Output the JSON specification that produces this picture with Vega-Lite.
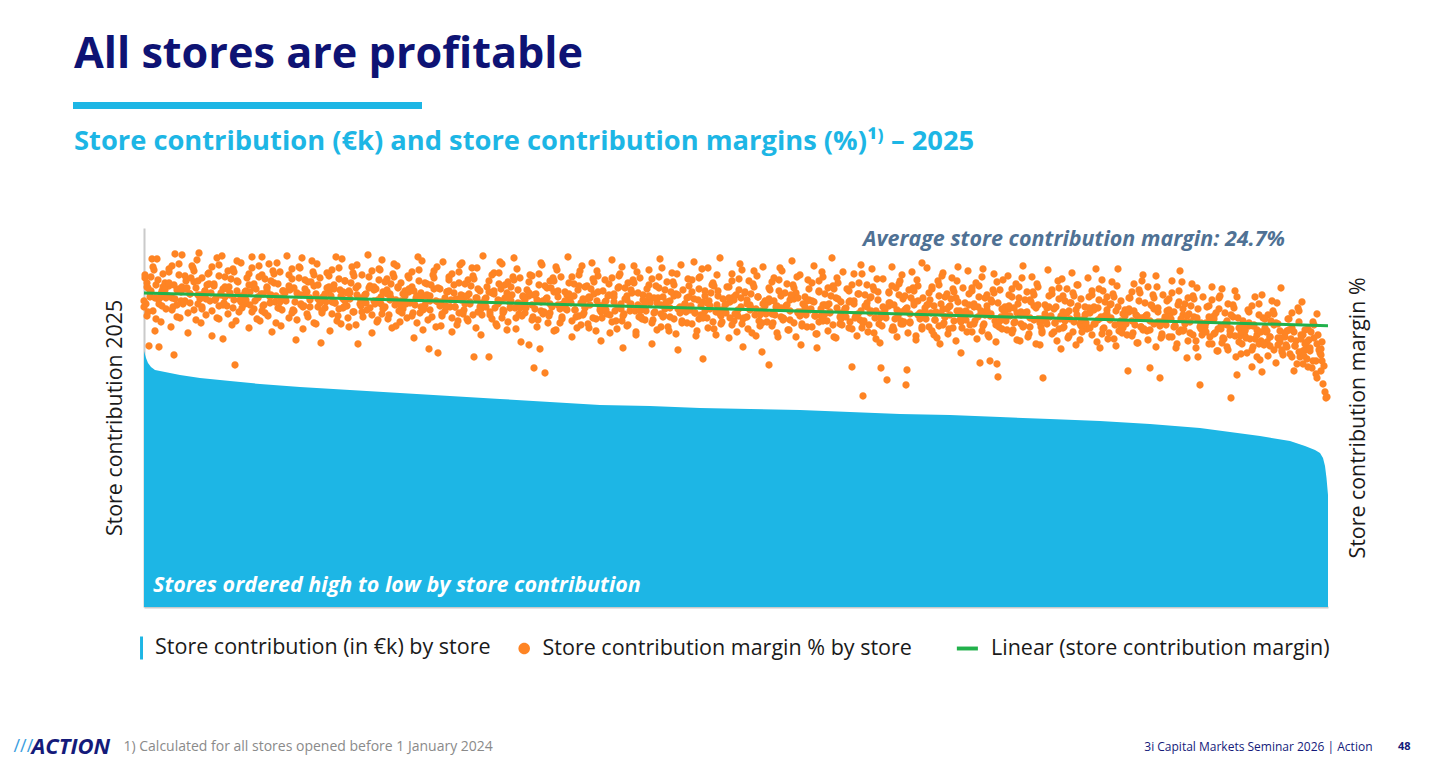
{
  "$schema": "https://vega.github.io/schema/vega-lite/v6.json",
  "width": 1184,
  "height": 379,
  "autosize": {"type": "none"},
  "padding": {"left": 144, "top": 228, "right": 101, "bottom": 158},
  "background": "#ffffff",
  "config": {"view": {"stroke": null}, "font": "Open Sans"},
  "title": {
    "text": "All stores are profitable",
    "subtitle": "Store contribution (€k) and store contribution margins (%)¹⁾ – 2025",
    "anchor": "start",
    "frame": "group",
    "dx": -70,
    "dy": 54,
    "offset": 0,
    "font": "Open Sans",
    "fontSize": 43.2,
    "fontWeight": "bold",
    "color": "#0e1374",
    "subtitleFont": "Open Sans",
    "subtitleFontSize": 27.3,
    "subtitleFontWeight": "bold",
    "subtitleColor": "#1db6e5",
    "subtitlePadding": 51
  },
  "datasets": {
    "contribution": [
      {"r": 0, "c": 1024}, {"r": 2, "c": 996}, {"r": 4, "c": 976}, {"r": 7, "c": 960},
      {"r": 11, "c": 948}, {"r": 21, "c": 940}, {"r": 36, "c": 928}, {"r": 56, "c": 916},
      {"r": 86, "c": 904}, {"r": 116, "c": 892}, {"r": 156, "c": 880}, {"r": 206, "c": 868},
      {"r": 256, "c": 856}, {"r": 306, "c": 844}, {"r": 356, "c": 832}, {"r": 406, "c": 820},
      {"r": 456, "c": 808}, {"r": 506, "c": 804}, {"r": 556, "c": 796}, {"r": 606, "c": 792},
      {"r": 656, "c": 788}, {"r": 706, "c": 780}, {"r": 756, "c": 772}, {"r": 806, "c": 768},
      {"r": 856, "c": 760}, {"r": 906, "c": 752}, {"r": 956, "c": 744}, {"r": 1006, "c": 732},
      {"r": 1056, "c": 716}, {"r": 1086, "c": 700}, {"r": 1116, "c": 684}, {"r": 1146, "c": 664},
      {"r": 1161, "c": 644}, {"r": 1171, "c": 628}, {"r": 1176, "c": 616}, {"r": 1179, "c": 596},
      {"r": 1181, "c": 564}, {"r": 1182.5, "c": 516}, {"r": 1184, "c": 448}
    ],
    "trend": [{"r": 0, "m": 26.4}, {"r": 1184, "m": 23.13}],
    "stores": [
      {"r":0,"m":25.0},{"r":1,"m":27.9},{"r":2,"m":25.3},{"r":3,"m":24.1},{"r":4,"m":26.9},{"r":5,"m":21.1},{"r":6,"m":26.0},{"r":8,"m":29.8},{"r":9,"m":24.6},{"r":11,"m":22.6},{"r":12,"m":27.2},{"r":14,"m":25.8},{"r":15,"m":21.0},{"r":17,"m":23.5},{"r":18,"m":26.6},{"r":19,"m":28.3},
      {"r":21,"m":27.4},{"r":22,"m":24.8},{"r":24,"m":26.1},{"r":25,"m":28.8},{"r":27,"m":23.0},{"r":28,"m":25.9},{"r":30,"m":20.2},{"r":31,"m":30.3},{"r":33,"m":25.2},{"r":35,"m":26.8},{"r":36,"m":23.9},{"r":38,"m":27.0},
      {"r":41,"m":25.6},{"r":42,"m":27.6},{"r":44,"m":22.4},{"r":46,"m":26.3},{"r":48,"m":29.1},{"r":50,"m":24.7},{"r":52,"m":26.9},{"r":54,"m":25.3},{"r":55,"m":30.4},{"r":57,"m":23.4},{"r":58,"m":27.9},
      {"r":61,"m":26.6},{"r":62,"m":24.2},{"r":64,"m":28.3},{"r":66,"m":25.6},{"r":68,"m":22.1},{"r":70,"m":27.3},{"r":72,"m":25.9},{"r":73,"m":29.9},{"r":75,"m":23.8},{"r":77,"m":26.2},{"r":79,"m":21.8},
      {"r":81,"m":27.0},{"r":83,"m":25.1},{"r":84,"m":28.6},{"r":86,"m":26.4},{"r":88,"m":23.2},{"r":90,"m":25.7},{"r":91,"m":19.2},{"r":93,"m":27.6},{"r":95,"m":24.5},{"r":97,"m":29.4},{"r":99,"m":26.0},
      {"r":101,"m":25.3},{"r":103,"m":27.9},{"r":105,"m":22.9},{"r":106,"m":26.5},{"r":108,"m":30.0},{"r":110,"m":24.8},{"r":112,"m":26.8},{"r":114,"m":25.9},{"r":116,"m":23.6},{"r":118,"m":28.2},{"r":119,"m":26.3},
      {"r":121,"m":24.4},{"r":123,"m":26.9},{"r":125,"m":29.3},{"r":126,"m":25.4},{"r":128,"m":22.5},{"r":130,"m":27.4},{"r":132,"m":26.1},{"r":134,"m":24.9},{"r":136,"m":28.5},{"r":137,"m":23.1},{"r":139,"m":26.6},
      {"r":141,"m":25.8},{"r":143,"m":30.1},{"r":145,"m":23.9},{"r":146,"m":26.7},{"r":148,"m":27.8},{"r":150,"m":24.6},{"r":152,"m":21.7},{"r":154,"m":26.2},{"r":156,"m":28.9},{"r":157,"m":25.2},{"r":159,"m":22.8},
      {"r":161,"m":26.8},{"r":163,"m":24.3},{"r":164,"m":27.5},{"r":166,"m":25.7},{"r":168,"m":29.6},{"r":170,"m":23.4},{"r":172,"m":26.3},{"r":174,"m":25.0},{"r":176,"m":27.9},{"r":177,"m":21.4},{"r":179,"m":26.0},
      {"r":181,"m":24.9},{"r":183,"m":28.4},{"r":185,"m":26.4},{"r":186,"m":22.6},{"r":188,"m":25.5},{"r":190,"m":27.2},{"r":192,"m":30.0},{"r":194,"m":24.1},{"r":196,"m":26.7},{"r":197,"m":23.3},{"r":199,"m":25.8},
      {"r":201,"m":27.6},{"r":203,"m":25.1},{"r":205,"m":23.0},{"r":206,"m":26.4},{"r":208,"m":29.0},{"r":210,"m":24.5},{"r":212,"m":26.9},{"r":214,"m":21.3},{"r":216,"m":25.9},{"r":218,"m":28.2},{"r":219,"m":24.0},
      {"r":221,"m":26.2},{"r":223,"m":24.7},{"r":224,"m":30.2},{"r":226,"m":27.1},{"r":228,"m":22.4},{"r":230,"m":25.6},{"r":232,"m":26.8},{"r":234,"m":23.7},{"r":236,"m":28.7},{"r":237,"m":25.3},{"r":239,"m":26.5},
      {"r":241,"m":25.0},{"r":243,"m":27.8},{"r":245,"m":24.2},{"r":246,"m":26.3},{"r":248,"m":22.9},{"r":250,"m":29.3},{"r":252,"m":25.7},{"r":254,"m":26.9},{"r":256,"m":23.5},{"r":257,"m":27.4},{"r":259,"m":24.8},
      {"r":261,"m":26.6},{"r":263,"m":23.9},{"r":264,"m":28.1},{"r":266,"m":25.4},{"r":268,"m":27.0},{"r":270,"m":21.9},{"r":272,"m":25.9},{"r":274,"m":30.0},{"r":276,"m":24.4},{"r":277,"m":26.4},{"r":279,"m":22.7},
      {"r":281,"m":25.2},{"r":283,"m":27.3},{"r":285,"m":20.8},{"r":286,"m":26.1},{"r":288,"m":24.0},{"r":290,"m":28.6},{"r":292,"m":25.6},{"r":294,"m":20.4},{"r":296,"m":26.8},{"r":297,"m":23.1},{"r":299,"m":29.5},
      {"r":301,"m":24.6},{"r":303,"m":26.5},{"r":305,"m":28.0},{"r":306,"m":25.0},{"r":308,"m":22.5},{"r":310,"m":27.2},{"r":312,"m":25.8},{"r":314,"m":23.6},{"r":316,"m":29.2},{"r":317,"m":26.2},{"r":319,"m":24.3},
      {"r":321,"m":26.0},{"r":323,"m":23.8},{"r":324,"m":27.7},{"r":326,"m":25.3},{"r":328,"m":28.9},{"r":330,"m":20.0},{"r":332,"m":25.9},{"r":334,"m":24.5},{"r":336,"m":26.6},{"r":337,"m":22.2},{"r":339,"m":30.1},
      {"r":341,"m":25.1},{"r":343,"m":27.0},{"r":345,"m":20.0},{"r":346,"m":24.2},{"r":348,"m":26.4},{"r":350,"m":28.4},{"r":352,"m":23.3},{"r":354,"m":25.7},{"r":356,"m":29.5},{"r":357,"m":26.8},{"r":359,"m":24.7},
      {"r":361,"m":25.9},{"r":363,"m":22.7},{"r":364,"m":27.5},{"r":366,"m":24.9},{"r":368,"m":26.2},{"r":370,"m":29.9},{"r":372,"m":23.9},{"r":374,"m":25.4},{"r":376,"m":27.9},{"r":377,"m":21.5},{"r":379,"m":26.1},
      {"r":381,"m":24.4},{"r":383,"m":26.7},{"r":385,"m":21.2},{"r":386,"m":28.2},{"r":388,"m":25.2},{"r":390,"m":18.9},{"r":392,"m":26.3},{"r":394,"m":23.7},{"r":396,"m":20.8},{"r":397,"m":29.4},{"r":399,"m":25.6},
      {"r":401,"m":18.4},{"r":403,"m":26.9},{"r":405,"m":24.1},{"r":406,"m":27.6},{"r":408,"m":25.0},{"r":410,"m":22.6},{"r":412,"m":29.0},{"r":414,"m":26.0},{"r":416,"m":23.4},{"r":417,"m":28.0},{"r":419,"m":25.3},
      {"r":421,"m":26.5},{"r":423,"m":24.7},{"r":424,"m":30.0},{"r":426,"m":25.8},{"r":428,"m":22.0},{"r":430,"m":27.3},{"r":432,"m":24.0},{"r":434,"m":26.7},{"r":436,"m":28.6},{"r":437,"m":23.2},{"r":439,"m":25.4},
      {"r":441,"m":24.9},{"r":443,"m":27.1},{"r":445,"m":22.9},{"r":446,"m":25.9},{"r":448,"m":29.4},{"r":450,"m":26.3},{"r":452,"m":23.8},{"r":454,"m":28.1},{"r":456,"m":25.1},{"r":457,"m":21.6},{"r":459,"m":26.6},
      {"r":461,"m":27.7},{"r":463,"m":24.3},{"r":464,"m":26.1},{"r":466,"m":22.4},{"r":468,"m":29.7},{"r":470,"m":25.5},{"r":472,"m":23.6},{"r":474,"m":26.9},{"r":476,"m":28.3},{"r":477,"m":24.8},{"r":479,"m":20.9},
      {"r":481,"m":25.8},{"r":483,"m":23.1},{"r":484,"m":27.4},{"r":486,"m":24.6},{"r":488,"m":26.4},{"r":490,"m":29.1},{"r":492,"m":22.2},{"r":494,"m":25.2},{"r":496,"m":27.9},{"r":497,"m":24.0},{"r":499,"m":26.2},
      {"r":501,"m":23.7},{"r":503,"m":26.8},{"r":505,"m":28.7},{"r":506,"m":25.4},{"r":508,"m":21.3},{"r":510,"m":24.4},{"r":512,"m":27.1},{"r":514,"m":25.9},{"r":516,"m":29.8},{"r":517,"m":23.0},{"r":519,"m":26.0},
      {"r":521,"m":24.8},{"r":523,"m":27.5},{"r":525,"m":22.6},{"r":526,"m":25.6},{"r":528,"m":28.4},{"r":530,"m":23.8},{"r":532,"m":26.3},{"r":534,"m":20.7},{"r":536,"m":25.0},{"r":537,"m":29.2},{"r":539,"m":26.7},
      {"r":541,"m":25.3},{"r":543,"m":23.4},{"r":544,"m":27.8},{"r":546,"m":24.7},{"r":548,"m":26.5},{"r":550,"m":29.5},{"r":552,"m":22.1},{"r":554,"m":25.7},{"r":556,"m":28.0},{"r":557,"m":24.2},{"r":559,"m":19.8},
      {"r":561,"m":26.1},{"r":563,"m":23.9},{"r":564,"m":28.9},{"r":566,"m":25.1},{"r":568,"m":27.2},{"r":570,"m":22.8},{"r":572,"m":24.5},{"r":574,"m":26.6},{"r":576,"m":29.9},{"r":577,"m":23.3},{"r":579,"m":25.8},
      {"r":581,"m":24.6},{"r":583,"m":27.0},{"r":585,"m":21.9},{"r":586,"m":25.5},{"r":588,"m":28.3},{"r":590,"m":23.6},{"r":592,"m":26.2},{"r":594,"m":24.1},{"r":596,"m":29.3},{"r":597,"m":25.9},{"r":599,"m":21.0},
      {"r":601,"m":26.4},{"r":603,"m":24.0},{"r":605,"m":27.6},{"r":606,"m":25.2},{"r":608,"m":22.4},{"r":610,"m":28.6},{"r":612,"m":24.8},{"r":614,"m":26.0},{"r":616,"m":23.1},{"r":618,"m":20.5},{"r":619,"m":29.0},
      {"r":621,"m":25.6},{"r":623,"m":23.5},{"r":625,"m":19.2},{"r":626,"m":26.7},{"r":628,"m":24.3},{"r":630,"m":27.9},{"r":632,"m":25.0},{"r":634,"m":22.0},{"r":636,"m":28.9},{"r":637,"m":26.1},{"r":639,"m":23.9},
      {"r":641,"m":24.9},{"r":643,"m":27.3},{"r":645,"m":22.7},{"r":646,"m":25.7},{"r":648,"m":29.6},{"r":650,"m":23.4},{"r":652,"m":26.4},{"r":654,"m":24.4},{"r":656,"m":28.2},{"r":657,"m":21.2},{"r":659,"m":25.3},
      {"r":661,"m":26.0},{"r":663,"m":23.0},{"r":664,"m":27.7},{"r":666,"m":24.7},{"r":668,"m":25.6},{"r":670,"m":29.1},{"r":672,"m":22.3},{"r":673,"m":20.9},{"r":675,"m":26.6},{"r":677,"m":24.1},{"r":679,"m":28.0},
      {"r":681,"m":25.2},{"r":683,"m":23.6},{"r":684,"m":26.9},{"r":686,"m":24.4},{"r":688,"m":29.9},{"r":690,"m":22.0},{"r":692,"m":25.9},{"r":694,"m":27.4},{"r":696,"m":23.3},{"r":697,"m":25.5},{"r":699,"m":28.5},
      {"r":701,"m":24.8},{"r":703,"m":26.8},{"r":705,"m":22.9},{"r":706,"m":25.6},{"r":708,"m":19.0},{"r":710,"m":28.3},{"r":712,"m":24.2},{"r":714,"m":26.3},{"r":716,"m":23.7},{"r":717,"m":29.2},{"r":719,"m":16.1},
      {"r":721,"m":25.1},{"r":723,"m":27.2},{"r":725,"m":23.2},{"r":726,"m":25.9},{"r":728,"m":28.8},{"r":730,"m":22.4},{"r":732,"m":24.6},{"r":734,"m":26.5},{"r":736,"m":21.4},{"r":737,"m":18.9},{"r":739,"m":27.8},
      {"r":741,"m":24.3},{"r":743,"m":17.7},{"r":745,"m":26.4},{"r":746,"m":25.4},{"r":748,"m":29.0},{"r":750,"m":22.7},{"r":752,"m":26.9},{"r":754,"m":24.1},{"r":756,"m":27.6},{"r":757,"m":23.3},{"r":759,"m":25.8},
      {"r":761,"m":24.7},{"r":762,"m":17.2},{"r":763,"m":18.7},{"r":765,"m":26.7},{"r":766,"m":23.5},{"r":768,"m":28.5},{"r":770,"m":25.2},{"r":772,"m":22.1},{"r":774,"m":27.1},{"r":776,"m":24.4},{"r":778,"m":29.4},{"r":779,"m":25.9},
      {"r":781,"m":24.9},{"r":783,"m":28.9},{"r":785,"m":23.0},{"r":786,"m":25.7},{"r":788,"m":26.8},{"r":790,"m":22.2},{"r":792,"m":24.5},{"r":794,"m":27.6},{"r":796,"m":21.3},{"r":797,"m":25.3},{"r":799,"m":28.4},
      {"r":801,"m":24.0},{"r":803,"m":26.3},{"r":805,"m":22.8},{"r":806,"m":25.1},{"r":808,"m":27.9},{"r":810,"m":23.6},{"r":812,"m":25.9},{"r":814,"m":29.0},{"r":816,"m":24.6},{"r":817,"m":20.4},{"r":819,"m":26.9},
      {"r":821,"m":25.4},{"r":823,"m":22.5},{"r":824,"m":28.6},{"r":826,"m":24.3},{"r":828,"m":26.6},{"r":830,"m":23.3},{"r":832,"m":27.4},{"r":834,"m":25.0},{"r":836,"m":19.4},{"r":837,"m":24.6},{"r":839,"m":28.8},
      {"r":841,"m":24.2},{"r":843,"m":26.2},{"r":845,"m":22.0},{"r":846,"m":19.6},{"r":848,"m":25.5},{"r":850,"m":28.3},{"r":852,"m":23.2},{"r":853,"m":19.3},{"r":854,"m":18.0},{"r":856,"m":26.7},{"r":858,"m":24.8},{"r":859,"m":27.7},
      {"r":861,"m":25.0},{"r":863,"m":22.7},{"r":864,"m":28.1},{"r":866,"m":24.1},{"r":868,"m":26.0},{"r":870,"m":23.4},{"r":872,"m":27.3},{"r":874,"m":25.3},{"r":876,"m":21.6},{"r":877,"m":24.5},{"r":879,"m":29.1},
      {"r":881,"m":24.4},{"r":883,"m":26.5},{"r":885,"m":22.3},{"r":886,"m":25.7},{"r":888,"m":28.0},{"r":890,"m":23.7},{"r":892,"m":24.9},{"r":894,"m":27.0},{"r":896,"m":21.2},{"r":897,"m":23.0},{"r":899,"m":17.9},
      {"r":901,"m":25.2},{"r":903,"m":23.3},{"r":904,"m":28.7},{"r":906,"m":24.0},{"r":908,"m":26.3},{"r":910,"m":22.5},{"r":912,"m":25.0},{"r":914,"m":27.6},{"r":916,"m":23.8},{"r":917,"m":20.8},{"r":919,"m":26.1},
      {"r":921,"m":24.3},{"r":923,"m":26.8},{"r":925,"m":22.1},{"r":926,"m":25.4},{"r":928,"m":28.4},{"r":930,"m":23.5},{"r":932,"m":24.7},{"r":934,"m":27.2},{"r":936,"m":21.7},{"r":937,"m":25.8},{"r":939,"m":23.1},
      {"r":941,"m":25.0},{"r":943,"m":22.8},{"r":944,"m":27.9},{"r":946,"m":24.4},{"r":948,"m":26.2},{"r":950,"m":23.3},{"r":952,"m":28.8},{"r":954,"m":24.9},{"r":956,"m":20.9},{"r":957,"m":23.9},{"r":959,"m":26.6},
      {"r":961,"m":24.1},{"r":963,"m":26.0},{"r":965,"m":22.4},{"r":966,"m":25.2},{"r":968,"m":27.5},{"r":970,"m":21.8},{"r":972,"m":24.6},{"r":974,"m":28.8},{"r":976,"m":23.4},{"r":977,"m":25.6},{"r":979,"m":22.9},
      {"r":981,"m":24.7},{"r":983,"m":22.2},{"r":984,"m":18.6},{"r":986,"m":25.9},{"r":988,"m":23.6},{"r":990,"m":27.3},{"r":992,"m":24.2},{"r":994,"m":21.4},{"r":996,"m":26.4},{"r":997,"m":23.0},{"r":999,"m":28.2},
      {"r":1001,"m":24.0},{"r":1003,"m":22.6},{"r":1004,"m":27.0},{"r":1006,"m":18.9},{"r":1008,"m":25.1},{"r":1010,"m":23.3},{"r":1012,"m":28.1},{"r":1014,"m":24.5},{"r":1016,"m":17.9},{"r":1017,"m":21.9},{"r":1019,"m":26.2},
      {"r":1021,"m":23.8},{"r":1023,"m":25.6},{"r":1025,"m":22.0},{"r":1026,"m":24.3},{"r":1028,"m":27.6},{"r":1030,"m":23.0},{"r":1032,"m":20.9},{"r":1034,"m":25.2},{"r":1036,"m":28.6},{"r":1037,"m":22.7},{"r":1039,"m":24.8},
      {"r":1041,"m":23.5},{"r":1043,"m":19.9},{"r":1044,"m":25.9},{"r":1046,"m":22.4},{"r":1048,"m":27.3},{"r":1050,"m":24.0},{"r":1052,"m":21.6},{"r":1054,"m":20.0},{"r":1056,"m":17.2},{"r":1057,"m":23.2},{"r":1059,"m":26.0},
      {"r":1061,"m":23.0},{"r":1063,"m":25.0},{"r":1065,"m":21.3},{"r":1066,"m":23.8},{"r":1068,"m":27.0},{"r":1070,"m":22.3},{"r":1072,"m":24.4},{"r":1074,"m":20.6},{"r":1076,"m":26.1},{"r":1077,"m":22.8},{"r":1079,"m":21.8},
      {"r":1081,"m":23.3},{"r":1083,"m":21.0},{"r":1084,"m":25.3},{"r":1086,"m":22.2},{"r":1087,"m":15.9},{"r":1089,"m":24.0},{"r":1091,"m":26.6},{"r":1093,"m":18.2},{"r":1095,"m":22.9},{"r":1097,"m":20.3},{"r":1099,"m":23.6},
      {"r":1101,"m":22.6},{"r":1103,"m":20.4},{"r":1104,"m":24.7},{"r":1106,"m":21.8},{"r":1108,"m":19.0},{"r":1109,"m":23.1},{"r":1111,"m":26.0},{"r":1113,"m":22.2},{"r":1115,"m":21.3},{"r":1116,"m":19.7},{"r":1118,"m":18.5},{"r":1119,"m":23.9},
      {"r":1121,"m":22.9},{"r":1123,"m":21.5},{"r":1124,"m":24.2},{"r":1126,"m":22.0},{"r":1128,"m":25.6},{"r":1130,"m":20.7},{"r":1132,"m":23.4},{"r":1134,"m":21.2},{"r":1136,"m":22.6},{"r":1137,"m":26.9},{"r":1139,"m":20.2},
      {"r":1141,"m":22.4},{"r":1143,"m":21.0},{"r":1144,"m":23.8},{"r":1146,"m":20.3},{"r":1148,"m":22.9},{"r":1150,"m":18.6},{"r":1152,"m":21.6},{"r":1154,"m":24.9},{"r":1156,"m":20.0},{"r":1157,"m":22.2},{"r":1159,"m":19.3},
      {"r":1161,"m":21.3},{"r":1163,"m":19.8},{"r":1164,"m":22.8},{"r":1166,"m":20.6},{"r":1168,"m":18.9},{"r":1170,"m":21.9},{"r":1172,"m":19.6},{"r":1173,"m":17.9},{"r":1175,"m":20.7},{"r":1177,"m":18.6},{"r":1178,"m":21.5},{"r":1179,"m":17.3},{"r":1180,"m":19.1},{"r":1181,"m":16.5},{"r":1182,"m":15.9},{"r":1183,"m":16.0},
      {"r":3,"m":27.4},{"r":7,"m":26.6},{"r":11,"m":25.9},{"r":15,"m":25.3},{"r":19,"m":27.0},
      {"r":21,"m":26.1},{"r":25,"m":27.1},{"r":29,"m":25.0},{"r":33,"m":26.7},{"r":37,"m":25.6},
      {"r":42,"m":26.8},{"r":46,"m":25.4},{"r":50,"m":27.5},{"r":54,"m":26.2},{"r":58,"m":24.8},
      {"r":63,"m":27.2},{"r":67,"m":26.4},{"r":71,"m":25.7},{"r":75,"m":25.1},{"r":79,"m":26.8},
      {"r":81,"m":26.0},{"r":85,"m":27.0},{"r":89,"m":24.9},{"r":93,"m":26.6},{"r":97,"m":25.5},
      {"r":102,"m":26.6},{"r":106,"m":25.2},{"r":110,"m":27.3},{"r":114,"m":26.0},{"r":118,"m":24.6},
      {"r":123,"m":27.0},{"r":127,"m":26.2},{"r":131,"m":25.5},{"r":135,"m":24.9},{"r":139,"m":26.6},
      {"r":141,"m":25.8},{"r":145,"m":26.8},{"r":149,"m":24.7},{"r":153,"m":26.4},{"r":157,"m":25.3},
      {"r":162,"m":26.4},{"r":166,"m":25.0},{"r":170,"m":27.1},{"r":174,"m":25.8},{"r":178,"m":24.4},
      {"r":183,"m":26.9},{"r":187,"m":26.1},{"r":191,"m":25.4},{"r":195,"m":24.8},{"r":199,"m":26.5},
      {"r":201,"m":25.6},{"r":205,"m":26.6},{"r":209,"m":24.5},{"r":213,"m":26.2},{"r":217,"m":25.1},
      {"r":222,"m":26.3},{"r":226,"m":24.9},{"r":230,"m":27.0},{"r":234,"m":25.7},{"r":238,"m":24.3},
      {"r":243,"m":26.7},{"r":247,"m":25.9},{"r":251,"m":25.2},{"r":255,"m":24.6},{"r":259,"m":26.3},
      {"r":261,"m":25.5},{"r":265,"m":26.5},{"r":269,"m":24.4},{"r":273,"m":26.1},{"r":277,"m":25.0},
      {"r":282,"m":26.1},{"r":286,"m":24.7},{"r":290,"m":26.8},{"r":294,"m":25.5},{"r":298,"m":24.1},
      {"r":303,"m":26.5},{"r":307,"m":25.7},{"r":311,"m":25.0},{"r":315,"m":24.4},{"r":319,"m":26.1},
      {"r":321,"m":25.3},{"r":325,"m":26.3},{"r":329,"m":24.2},{"r":333,"m":25.9},{"r":337,"m":24.8},
      {"r":342,"m":25.9},{"r":346,"m":24.5},{"r":350,"m":26.6},{"r":354,"m":25.3},{"r":358,"m":23.9},
      {"r":363,"m":26.4},{"r":367,"m":25.6},{"r":371,"m":24.9},{"r":375,"m":24.3},{"r":379,"m":26.0},
      {"r":381,"m":25.1},{"r":385,"m":26.1},{"r":389,"m":24.0},{"r":393,"m":25.7},{"r":397,"m":24.6},
      {"r":402,"m":25.8},{"r":406,"m":24.4},{"r":410,"m":26.5},{"r":414,"m":25.2},{"r":418,"m":23.8},
      {"r":423,"m":26.2},{"r":427,"m":25.4},{"r":431,"m":24.7},{"r":435,"m":24.1},{"r":439,"m":25.8},
      {"r":441,"m":25.0},{"r":445,"m":26.0},{"r":449,"m":23.9},{"r":453,"m":25.6},{"r":457,"m":24.5},
      {"r":462,"m":25.6},{"r":466,"m":24.2},{"r":470,"m":26.3},{"r":474,"m":25.0},{"r":478,"m":23.6},
      {"r":483,"m":26.1},{"r":487,"m":25.3},{"r":491,"m":24.6},{"r":495,"m":24.0},{"r":499,"m":25.7},
      {"r":501,"m":24.8},{"r":505,"m":25.8},{"r":509,"m":23.7},{"r":513,"m":25.4},{"r":517,"m":24.3},
      {"r":522,"m":25.4},{"r":526,"m":24.0},{"r":530,"m":26.1},{"r":534,"m":24.8},{"r":538,"m":23.4},
      {"r":543,"m":25.9},{"r":547,"m":25.1},{"r":551,"m":24.4},{"r":555,"m":23.8},{"r":559,"m":25.5},
      {"r":561,"m":24.6},{"r":565,"m":25.6},{"r":569,"m":23.5},{"r":573,"m":25.2},{"r":577,"m":24.1},
      {"r":582,"m":25.3},{"r":586,"m":23.9},{"r":590,"m":26.0},{"r":594,"m":24.7},{"r":598,"m":23.3},
      {"r":603,"m":25.7},{"r":607,"m":24.9},{"r":611,"m":24.2},{"r":615,"m":23.6},{"r":619,"m":25.3},
      {"r":621,"m":24.5},{"r":625,"m":25.5},{"r":629,"m":23.4},{"r":633,"m":25.1},{"r":637,"m":24.0},
      {"r":642,"m":25.1},{"r":646,"m":23.7},{"r":650,"m":25.8},{"r":654,"m":24.5},{"r":658,"m":23.1},
      {"r":663,"m":25.6},{"r":667,"m":24.8},{"r":671,"m":24.1},{"r":675,"m":23.5},{"r":679,"m":25.2},
      {"r":681,"m":24.3},{"r":685,"m":25.3},{"r":689,"m":23.2},{"r":693,"m":24.9},{"r":697,"m":23.8},
      {"r":702,"m":24.9},{"r":706,"m":23.5},{"r":710,"m":25.6},{"r":714,"m":24.3},{"r":718,"m":22.9},
      {"r":723,"m":25.4},{"r":727,"m":24.6},{"r":731,"m":23.9},{"r":735,"m":23.3},{"r":739,"m":25.0},
      {"r":741,"m":24.1},{"r":745,"m":25.1},{"r":749,"m":23.0},{"r":753,"m":24.7},{"r":757,"m":23.6},
      {"r":762,"m":24.8},{"r":766,"m":23.4},{"r":770,"m":25.5},{"r":774,"m":24.2},{"r":778,"m":22.8},
      {"r":783,"m":25.2},{"r":787,"m":24.4},{"r":791,"m":23.7},{"r":795,"m":23.1},{"r":799,"m":24.8},
      {"r":801,"m":24.0},{"r":805,"m":25.0},{"r":809,"m":22.9},{"r":813,"m":24.6},{"r":817,"m":23.5},
      {"r":822,"m":24.6},{"r":826,"m":23.2},{"r":830,"m":25.3},{"r":834,"m":24.0},{"r":838,"m":22.6},
      {"r":843,"m":25.1},{"r":847,"m":24.3},{"r":851,"m":23.6},{"r":855,"m":23.0},{"r":859,"m":24.7},
      {"r":861,"m":23.8},{"r":865,"m":24.8},{"r":869,"m":22.7},{"r":873,"m":24.4},{"r":877,"m":23.3},
      {"r":882,"m":24.4},{"r":886,"m":23.0},{"r":890,"m":25.1},{"r":894,"m":23.8},{"r":898,"m":22.4},
      {"r":903,"m":24.9},{"r":907,"m":24.1},{"r":911,"m":23.4},{"r":915,"m":22.8},{"r":919,"m":24.5},
      {"r":921,"m":23.6},{"r":925,"m":24.6},{"r":929,"m":22.5},{"r":933,"m":24.2},{"r":937,"m":23.1},
      {"r":942,"m":24.3},{"r":946,"m":22.9},{"r":950,"m":25.0},{"r":954,"m":23.7},{"r":958,"m":22.3},
      {"r":963,"m":24.7},{"r":967,"m":23.9},{"r":971,"m":23.2},{"r":975,"m":22.6},{"r":979,"m":24.3},
      {"r":981,"m":23.5},{"r":985,"m":24.5},{"r":989,"m":22.4},{"r":993,"m":24.1},{"r":997,"m":23.0},
      {"r":1002,"m":24.1},{"r":1006,"m":22.7},{"r":1010,"m":24.8},{"r":1014,"m":23.5},{"r":1018,"m":22.1},
      {"r":1023,"m":24.6},{"r":1027,"m":23.8},{"r":1031,"m":23.1},{"r":1035,"m":22.5},{"r":1039,"m":24.2},
      {"r":1041,"m":23.3},{"r":1045,"m":24.3},{"r":1049,"m":22.2},{"r":1053,"m":23.9},{"r":1057,"m":22.8},
      {"r":1062,"m":23.4},{"r":1066,"m":22.0},{"r":1070,"m":24.1},{"r":1074,"m":22.8},{"r":1078,"m":21.4},
      {"r":1083,"m":23.6},{"r":1087,"m":22.8},{"r":1091,"m":22.1},{"r":1095,"m":21.5},{"r":1099,"m":23.2},
      {"r":1101,"m":22.1},{"r":1105,"m":23.1},{"r":1109,"m":21.0},{"r":1113,"m":22.7},{"r":1117,"m":21.6},
      {"r":1122,"m":22.5},{"r":1126,"m":21.1},{"r":1130,"m":23.2},{"r":1134,"m":21.9},{"r":1138,"m":20.5},
      {"r":1143,"m":22.6},{"r":1147,"m":21.8},{"r":1151,"m":21.1},{"r":1155,"m":20.5},{"r":1159,"m":22.2},
      {"r":1161,"m":20.7},{"r":1165,"m":21.7},{"r":1169,"m":19.6},{"r":1173,"m":21.3},{"r":1177,"m":20.2},
      {"r":1,"m":28.2},{"r":4,"m":24.5},{"r":6,"m":26.4},{"r":9,"m":29.0},{"r":12,"m":23.8},{"r":14,"m":27.7},{"r":16,"m":25.9},{"r":18,"m":25.1},
      {"r":22,"m":25.9},{"r":25,"m":28.5},{"r":28,"m":24.7},{"r":30,"m":27.2},{"r":33,"m":24.0},{"r":35,"m":29.3},{"r":37,"m":26.5},{"r":39,"m":25.3},
      {"r":41,"m":28.1},{"r":44,"m":24.4},{"r":46,"m":26.3},{"r":49,"m":28.9},{"r":52,"m":23.7},{"r":54,"m":27.6},{"r":56,"m":25.8},{"r":58,"m":25.0},
      {"r":62,"m":25.8},{"r":65,"m":28.4},{"r":68,"m":24.6},{"r":70,"m":27.1},{"r":73,"m":23.9},{"r":75,"m":29.2},{"r":77,"m":26.4},{"r":79,"m":25.2},
      {"r":81,"m":28.0},{"r":84,"m":24.3},{"r":86,"m":26.2},{"r":89,"m":28.8},{"r":92,"m":23.6},{"r":94,"m":27.5},{"r":96,"m":25.7},{"r":98,"m":24.9},
      {"r":102,"m":25.7},{"r":105,"m":28.3},{"r":108,"m":24.5},{"r":110,"m":27.0},{"r":113,"m":23.8},{"r":115,"m":29.1},{"r":117,"m":26.3},{"r":119,"m":25.1},
      {"r":121,"m":27.8},{"r":124,"m":24.1},{"r":126,"m":26.0},{"r":129,"m":28.6},{"r":132,"m":23.4},{"r":134,"m":27.3},{"r":136,"m":25.5},{"r":138,"m":24.7},
      {"r":142,"m":25.6},{"r":145,"m":28.2},{"r":148,"m":24.4},{"r":150,"m":26.9},{"r":153,"m":23.7},{"r":155,"m":29.0},{"r":157,"m":26.2},{"r":159,"m":25.0},
      {"r":161,"m":27.7},{"r":164,"m":24.0},{"r":166,"m":25.9},{"r":169,"m":28.5},{"r":172,"m":23.3},{"r":174,"m":27.2},{"r":176,"m":25.4},{"r":178,"m":24.6},
      {"r":182,"m":25.5},{"r":185,"m":28.1},{"r":188,"m":24.3},{"r":190,"m":26.8},{"r":193,"m":23.6},{"r":195,"m":28.9},{"r":197,"m":26.1},{"r":199,"m":24.9},
      {"r":201,"m":27.6},{"r":204,"m":23.9},{"r":206,"m":25.8},{"r":209,"m":28.4},{"r":212,"m":23.2},{"r":214,"m":27.1},{"r":216,"m":25.3},{"r":218,"m":24.5},
      {"r":222,"m":25.4},{"r":225,"m":28.0},{"r":228,"m":24.2},{"r":230,"m":26.7},{"r":233,"m":23.5},{"r":235,"m":28.8},{"r":237,"m":26.0},{"r":239,"m":24.8},
      {"r":241,"m":27.5},{"r":244,"m":23.8},{"r":246,"m":25.7},{"r":249,"m":28.3},{"r":252,"m":23.1},{"r":254,"m":27.0},{"r":256,"m":25.2},{"r":258,"m":24.4},
      {"r":262,"m":25.3},{"r":265,"m":27.9},{"r":268,"m":24.1},{"r":270,"m":26.6},{"r":273,"m":23.4},{"r":275,"m":28.7},{"r":277,"m":25.9},{"r":279,"m":24.7},
      {"r":281,"m":27.4},{"r":284,"m":23.7},{"r":286,"m":25.6},{"r":289,"m":28.2},{"r":292,"m":23.0},{"r":294,"m":26.9},{"r":296,"m":25.1},{"r":298,"m":24.3},
      {"r":302,"m":25.1},{"r":305,"m":27.7},{"r":308,"m":23.9},{"r":310,"m":26.4},{"r":313,"m":23.2},{"r":315,"m":28.5},{"r":317,"m":25.7},{"r":319,"m":24.5},
      {"r":321,"m":27.3},{"r":324,"m":23.6},{"r":326,"m":25.5},{"r":329,"m":28.1},{"r":332,"m":22.9},{"r":334,"m":26.8},{"r":336,"m":25.0},{"r":338,"m":24.2},
      {"r":342,"m":25.0},{"r":345,"m":27.6},{"r":348,"m":23.8},{"r":350,"m":26.3},{"r":353,"m":23.1},{"r":355,"m":28.4},{"r":357,"m":25.6},{"r":359,"m":24.4},
      {"r":361,"m":27.2},{"r":364,"m":23.5},{"r":366,"m":25.4},{"r":369,"m":28.0},{"r":372,"m":22.8},{"r":374,"m":26.7},{"r":376,"m":24.9},{"r":378,"m":24.1},
      {"r":382,"m":24.9},{"r":385,"m":27.5},{"r":388,"m":23.7},{"r":390,"m":26.2},{"r":393,"m":23.0},{"r":395,"m":28.3},{"r":397,"m":25.5},{"r":399,"m":24.3},
      {"r":401,"m":27.1},{"r":404,"m":23.4},{"r":406,"m":25.3},{"r":409,"m":27.9},{"r":412,"m":22.7},{"r":414,"m":26.6},{"r":416,"m":24.8},{"r":418,"m":24.0},
      {"r":422,"m":24.8},{"r":425,"m":27.4},{"r":428,"m":23.6},{"r":430,"m":26.1},{"r":433,"m":22.9},{"r":435,"m":28.2},{"r":437,"m":25.4},{"r":439,"m":24.2},
      {"r":441,"m":27.0},{"r":444,"m":23.3},{"r":446,"m":25.2},{"r":449,"m":27.8},{"r":452,"m":22.6},{"r":454,"m":26.5},{"r":456,"m":24.7},{"r":458,"m":23.9},
      {"r":462,"m":24.7},{"r":465,"m":27.3},{"r":468,"m":23.5},{"r":470,"m":26.0},{"r":473,"m":22.8},{"r":475,"m":28.1},{"r":477,"m":25.3},{"r":479,"m":24.1},
      {"r":481,"m":26.9},{"r":484,"m":23.2},{"r":486,"m":25.1},{"r":489,"m":27.7},{"r":492,"m":22.5},{"r":494,"m":26.4},{"r":496,"m":24.6},{"r":498,"m":23.8},
      {"r":502,"m":24.6},{"r":505,"m":27.2},{"r":508,"m":23.4},{"r":510,"m":25.9},{"r":513,"m":22.7},{"r":515,"m":28.0},{"r":517,"m":25.2},{"r":519,"m":24.0},
      {"r":521,"m":26.7},{"r":524,"m":23.0},{"r":526,"m":24.9},{"r":529,"m":27.5},{"r":532,"m":22.3},{"r":534,"m":26.2},{"r":536,"m":24.4},{"r":538,"m":23.6},
      {"r":542,"m":24.5},{"r":545,"m":27.1},{"r":548,"m":23.3},{"r":550,"m":25.8},{"r":553,"m":22.6},{"r":555,"m":27.9},{"r":557,"m":25.1},{"r":559,"m":23.9},
      {"r":561,"m":26.6},{"r":564,"m":22.9},{"r":566,"m":24.8},{"r":569,"m":27.4},{"r":572,"m":22.2},{"r":574,"m":26.1},{"r":576,"m":24.3},{"r":578,"m":23.5},
      {"r":582,"m":24.4},{"r":585,"m":27.0},{"r":588,"m":23.2},{"r":590,"m":25.7},{"r":593,"m":22.5},{"r":595,"m":27.8},{"r":597,"m":25.0},{"r":599,"m":23.8},
      {"r":601,"m":26.5},{"r":604,"m":22.8},{"r":606,"m":24.7},{"r":609,"m":27.3},{"r":612,"m":22.1},{"r":614,"m":26.0},{"r":616,"m":24.2},{"r":618,"m":23.4},
      {"r":622,"m":24.3},{"r":625,"m":26.9},{"r":628,"m":23.1},{"r":630,"m":25.6},{"r":633,"m":22.4},{"r":635,"m":27.7},{"r":637,"m":24.9},{"r":639,"m":23.7},
      {"r":641,"m":26.4},{"r":644,"m":22.7},{"r":646,"m":24.6},{"r":649,"m":27.2},{"r":652,"m":22.0},{"r":654,"m":25.9},{"r":656,"m":24.1},{"r":658,"m":23.3},
      {"r":662,"m":24.2},{"r":665,"m":26.8},{"r":668,"m":23.0},{"r":670,"m":25.5},{"r":673,"m":22.3},{"r":675,"m":27.6},{"r":677,"m":24.8},{"r":679,"m":23.6},
      {"r":681,"m":26.3},{"r":684,"m":22.6},{"r":686,"m":24.5},{"r":689,"m":27.1},{"r":692,"m":21.9},{"r":694,"m":25.8},{"r":696,"m":24.0},{"r":698,"m":23.2},
      {"r":702,"m":24.0},{"r":705,"m":26.6},{"r":708,"m":22.8},{"r":710,"m":25.3},{"r":713,"m":22.1},{"r":715,"m":27.4},{"r":717,"m":24.6},{"r":719,"m":23.4},
      {"r":721,"m":26.2},{"r":724,"m":22.5},{"r":726,"m":24.4},{"r":729,"m":27.0},{"r":732,"m":21.8},{"r":734,"m":25.7},{"r":736,"m":23.9},{"r":738,"m":23.1},
      {"r":742,"m":23.9},{"r":745,"m":26.5},{"r":748,"m":22.7},{"r":750,"m":25.2},{"r":753,"m":22.0},{"r":755,"m":27.3},{"r":757,"m":24.5},{"r":759,"m":23.3},
      {"r":761,"m":26.1},{"r":764,"m":22.4},{"r":766,"m":24.3},{"r":769,"m":26.9},{"r":772,"m":21.7},{"r":774,"m":25.6},{"r":776,"m":23.8},{"r":778,"m":23.0},
      {"r":782,"m":23.8},{"r":785,"m":26.4},{"r":788,"m":22.6},{"r":790,"m":25.1},{"r":793,"m":21.9},{"r":795,"m":27.2},{"r":797,"m":24.4},{"r":799,"m":23.2},
      {"r":801,"m":26.0},{"r":804,"m":22.3},{"r":806,"m":24.2},{"r":809,"m":26.8},{"r":812,"m":21.6},{"r":814,"m":25.5},{"r":816,"m":23.7},{"r":818,"m":22.9},
      {"r":822,"m":23.7},{"r":825,"m":26.3},{"r":828,"m":22.5},{"r":830,"m":25.0},{"r":833,"m":21.8},{"r":835,"m":27.1},{"r":837,"m":24.3},{"r":839,"m":23.1},
      {"r":841,"m":25.9},{"r":844,"m":22.2},{"r":846,"m":24.1},{"r":849,"m":26.7},{"r":852,"m":21.5},{"r":854,"m":25.4},{"r":856,"m":23.6},{"r":858,"m":22.8},
      {"r":862,"m":23.6},{"r":865,"m":26.2},{"r":868,"m":22.4},{"r":870,"m":24.9},{"r":873,"m":21.7},{"r":875,"m":27.0},{"r":877,"m":24.2},{"r":879,"m":23.0},
      {"r":881,"m":25.7},{"r":884,"m":22.0},{"r":886,"m":23.9},{"r":889,"m":26.5},{"r":892,"m":21.3},{"r":894,"m":25.2},{"r":896,"m":23.4},{"r":898,"m":22.6},
      {"r":902,"m":23.5},{"r":905,"m":26.1},{"r":908,"m":22.3},{"r":910,"m":24.8},{"r":913,"m":21.6},{"r":915,"m":26.9},{"r":917,"m":24.1},{"r":919,"m":22.9},
      {"r":921,"m":25.6},{"r":924,"m":21.9},{"r":926,"m":23.8},{"r":929,"m":26.4},{"r":932,"m":21.2},{"r":934,"m":25.1},{"r":936,"m":23.3},{"r":938,"m":22.5},
      {"r":942,"m":23.4},{"r":945,"m":26.0},{"r":948,"m":22.2},{"r":950,"m":24.7},{"r":953,"m":21.5},{"r":955,"m":26.8},{"r":957,"m":24.0},{"r":959,"m":22.8},
      {"r":961,"m":25.5},{"r":964,"m":21.8},{"r":966,"m":23.7},{"r":969,"m":26.3},{"r":972,"m":21.1},{"r":974,"m":25.0},{"r":976,"m":23.2},{"r":978,"m":22.4},
      {"r":982,"m":23.3},{"r":985,"m":25.9},{"r":988,"m":22.1},{"r":990,"m":24.6},{"r":993,"m":21.4},{"r":995,"m":26.7},{"r":997,"m":23.9},{"r":999,"m":22.7},
      {"r":1001,"m":25.4},{"r":1004,"m":21.7},{"r":1006,"m":23.6},{"r":1009,"m":26.2},{"r":1012,"m":21.0},{"r":1014,"m":24.9},{"r":1016,"m":23.1},{"r":1018,"m":22.3},
      {"r":1022,"m":23.2},{"r":1025,"m":25.8},{"r":1028,"m":22.0},{"r":1030,"m":24.5},{"r":1033,"m":21.3},{"r":1035,"m":26.6},{"r":1037,"m":23.8},{"r":1039,"m":22.6},
      {"r":1041,"m":25.3},{"r":1044,"m":21.6},{"r":1046,"m":23.5},{"r":1049,"m":26.1},{"r":1052,"m":20.9},{"r":1054,"m":24.8},{"r":1056,"m":23.0},{"r":1058,"m":22.2},
      {"r":1062,"m":22.5},{"r":1065,"m":25.1},{"r":1068,"m":21.3},{"r":1070,"m":23.8},{"r":1073,"m":20.6},{"r":1075,"m":25.9},{"r":1077,"m":23.1},{"r":1079,"m":21.9},
      {"r":1081,"m":24.4},{"r":1084,"m":20.7},{"r":1086,"m":22.6},{"r":1089,"m":25.2},{"r":1092,"m":20.0},{"r":1094,"m":23.9},{"r":1096,"m":22.1},{"r":1098,"m":21.3},
      {"r":1102,"m":21.9},{"r":1105,"m":24.5},{"r":1108,"m":20.7},{"r":1110,"m":23.2},{"r":1113,"m":20.0},{"r":1115,"m":25.3},{"r":1117,"m":22.5},{"r":1119,"m":21.3},
      {"r":1121,"m":23.8},{"r":1124,"m":20.1},{"r":1126,"m":22.0},{"r":1129,"m":24.6},{"r":1132,"m":19.4},{"r":1134,"m":23.3},{"r":1136,"m":21.5},{"r":1138,"m":20.7},
      {"r":1142,"m":21.2},{"r":1145,"m":23.8},{"r":1148,"m":20.0},{"r":1150,"m":22.5},{"r":1153,"m":19.3},{"r":1155,"m":24.6},{"r":1157,"m":21.8},{"r":1159,"m":20.6},
      {"r":1161,"m":22.7},{"r":1164,"m":19.0},{"r":1166,"m":20.9},{"r":1169,"m":23.5},{"r":1172,"m":18.3},{"r":1174,"m":22.2},{"r":1176,"m":20.4},{"r":1178,"m":19.6},
      {"r":0,"m":25.6},{"r":3,"m":27.0},{"r":7,"m":28.0},{"r":10,"m":28.7},{"r":13,"m":29.8},{"r":17,"m":26.3},
      {"r":21,"m":26.7},{"r":25,"m":27.4},{"r":28,"m":29.1},{"r":31,"m":25.8},{"r":35,"m":28.2},{"r":38,"m":30.2},
      {"r":40,"m":25.5},{"r":43,"m":26.9},{"r":47,"m":27.9},{"r":50,"m":28.6},{"r":53,"m":29.7},{"r":57,"m":26.2},
      {"r":61,"m":26.6},{"r":65,"m":27.3},{"r":68,"m":29.0},{"r":71,"m":25.7},{"r":75,"m":28.1},{"r":78,"m":30.1},
      {"r":80,"m":25.4},{"r":83,"m":26.8},{"r":87,"m":27.8},{"r":90,"m":28.5},{"r":93,"m":29.6},{"r":97,"m":26.1},
      {"r":101,"m":26.5},{"r":105,"m":27.2},{"r":108,"m":28.9},{"r":111,"m":25.6},{"r":115,"m":28.0},{"r":118,"m":30.0},
      {"r":120,"m":25.2},{"r":123,"m":26.6},{"r":127,"m":27.6},{"r":130,"m":28.3},{"r":133,"m":29.4},{"r":137,"m":25.9},
      {"r":141,"m":26.4},{"r":145,"m":27.1},{"r":148,"m":28.8},{"r":151,"m":25.5},{"r":155,"m":27.9},{"r":158,"m":29.9},
      {"r":160,"m":25.1},{"r":163,"m":26.5},{"r":167,"m":27.5},{"r":170,"m":28.2},{"r":173,"m":29.3},{"r":177,"m":25.8},
      {"r":181,"m":26.3},{"r":185,"m":27.0},{"r":188,"m":28.7},{"r":191,"m":25.4},{"r":195,"m":27.8},{"r":198,"m":29.8},
      {"r":200,"m":25.0},{"r":203,"m":26.4},{"r":207,"m":27.4},{"r":210,"m":28.1},{"r":213,"m":29.2},{"r":217,"m":25.7},
      {"r":221,"m":26.2},{"r":225,"m":26.9},{"r":228,"m":28.6},{"r":231,"m":25.3},{"r":235,"m":27.7},{"r":238,"m":29.7},
      {"r":240,"m":24.9},{"r":243,"m":26.3},{"r":247,"m":27.3},{"r":250,"m":28.0},{"r":253,"m":29.1},{"r":257,"m":25.6},
      {"r":261,"m":26.1},{"r":265,"m":26.8},{"r":268,"m":28.5},{"r":271,"m":25.2},{"r":275,"m":27.6},{"r":278,"m":29.6},
      {"r":280,"m":24.8},{"r":283,"m":26.2},{"r":287,"m":27.2},{"r":290,"m":27.9},{"r":293,"m":29.0},{"r":297,"m":25.5},
      {"r":301,"m":25.9},{"r":305,"m":26.6},{"r":308,"m":28.3},{"r":311,"m":25.0},{"r":315,"m":27.4},{"r":318,"m":29.4},
      {"r":320,"m":24.7},{"r":323,"m":26.1},{"r":327,"m":27.1},{"r":330,"m":27.8},{"r":333,"m":28.9},{"r":337,"m":25.4},
      {"r":341,"m":25.8},{"r":345,"m":26.5},{"r":348,"m":28.2},{"r":351,"m":24.9},{"r":355,"m":27.3},{"r":358,"m":29.3},
      {"r":360,"m":24.6},{"r":363,"m":26.0},{"r":367,"m":27.0},{"r":370,"m":27.7},{"r":373,"m":28.8},{"r":377,"m":25.3},
      {"r":381,"m":25.7},{"r":385,"m":26.4},{"r":388,"m":28.1},{"r":391,"m":24.8},{"r":395,"m":27.2},{"r":398,"m":29.2},
      {"r":400,"m":24.5},{"r":403,"m":25.9},{"r":407,"m":26.9},{"r":410,"m":27.6},{"r":413,"m":28.7},{"r":417,"m":25.2},
      {"r":421,"m":25.6},{"r":425,"m":26.3},{"r":428,"m":28.0},{"r":431,"m":24.7},{"r":435,"m":27.1},{"r":438,"m":29.1},
      {"r":440,"m":24.4},{"r":443,"m":25.8},{"r":447,"m":26.8},{"r":450,"m":27.5},{"r":453,"m":28.6},{"r":457,"m":25.1},
      {"r":461,"m":25.5},{"r":465,"m":26.2},{"r":468,"m":27.9},{"r":471,"m":24.6},{"r":475,"m":27.0},{"r":478,"m":29.0},
      {"r":480,"m":24.3},{"r":483,"m":25.7},{"r":487,"m":26.7},{"r":490,"m":27.4},{"r":493,"m":28.5},{"r":497,"m":25.0},
      {"r":501,"m":25.4},{"r":505,"m":26.1},{"r":508,"m":27.8},{"r":511,"m":24.5},{"r":515,"m":26.9},{"r":518,"m":28.9},
      {"r":520,"m":24.1},{"r":523,"m":25.5},{"r":527,"m":26.5},{"r":530,"m":27.2},{"r":533,"m":28.3},{"r":537,"m":24.8},
      {"r":541,"m":25.3},{"r":545,"m":26.0},{"r":548,"m":27.7},{"r":551,"m":24.4},{"r":555,"m":26.8},{"r":558,"m":28.8},
      {"r":560,"m":24.0},{"r":563,"m":25.4},{"r":567,"m":26.4},{"r":570,"m":27.1},{"r":573,"m":28.2},{"r":577,"m":24.7},
      {"r":581,"m":25.2},{"r":585,"m":25.9},{"r":588,"m":27.6},{"r":591,"m":24.3},{"r":595,"m":26.7},{"r":598,"m":28.7},
      {"r":600,"m":23.9},{"r":603,"m":25.3},{"r":607,"m":26.3},{"r":610,"m":27.0},{"r":613,"m":28.1},{"r":617,"m":24.6},
      {"r":621,"m":25.1},{"r":625,"m":25.8},{"r":628,"m":27.5},{"r":631,"m":24.2},{"r":635,"m":26.6},{"r":638,"m":28.6},
      {"r":640,"m":23.8},{"r":643,"m":25.2},{"r":647,"m":26.2},{"r":650,"m":26.9},{"r":653,"m":28.0},{"r":657,"m":24.5},
      {"r":661,"m":25.0},{"r":665,"m":25.7},{"r":668,"m":27.4},{"r":671,"m":24.1},{"r":675,"m":26.5},{"r":678,"m":28.5},
      {"r":680,"m":23.7},{"r":683,"m":25.1},{"r":687,"m":26.1},{"r":690,"m":26.8},{"r":693,"m":27.9},{"r":697,"m":24.4},
      {"r":701,"m":24.8},{"r":705,"m":25.5},{"r":708,"m":27.2},{"r":711,"m":23.9},{"r":715,"m":26.3},{"r":718,"m":28.3},
      {"r":720,"m":23.6},{"r":723,"m":25.0},{"r":727,"m":26.0},{"r":730,"m":26.7},{"r":733,"m":27.8},{"r":737,"m":24.3},
      {"r":741,"m":24.7},{"r":745,"m":25.4},{"r":748,"m":27.1},{"r":751,"m":23.8},{"r":755,"m":26.2},{"r":758,"m":28.2},
      {"r":760,"m":23.5},{"r":763,"m":24.9},{"r":767,"m":25.9},{"r":770,"m":26.6},{"r":773,"m":27.7},{"r":777,"m":24.2},
      {"r":781,"m":24.6},{"r":785,"m":25.3},{"r":788,"m":27.0},{"r":791,"m":23.7},{"r":795,"m":26.1},{"r":798,"m":28.1},
      {"r":800,"m":23.4},{"r":803,"m":24.8},{"r":807,"m":25.8},{"r":810,"m":26.5},{"r":813,"m":27.6},{"r":817,"m":24.1},
      {"r":821,"m":24.5},{"r":825,"m":25.2},{"r":828,"m":26.9},{"r":831,"m":23.6},{"r":835,"m":26.0},{"r":838,"m":28.0},
      {"r":840,"m":23.3},{"r":843,"m":24.7},{"r":847,"m":25.7},{"r":850,"m":26.4},{"r":853,"m":27.5},{"r":857,"m":24.0},
      {"r":861,"m":24.4},{"r":865,"m":25.1},{"r":868,"m":26.8},{"r":871,"m":23.5},{"r":875,"m":25.9},{"r":878,"m":27.9},
      {"r":880,"m":23.1},{"r":883,"m":24.5},{"r":887,"m":25.5},{"r":890,"m":26.2},{"r":893,"m":27.3},{"r":897,"m":23.8},
      {"r":901,"m":24.3},{"r":905,"m":25.0},{"r":908,"m":26.7},{"r":911,"m":23.4},{"r":915,"m":25.8},{"r":918,"m":27.8},
      {"r":920,"m":23.0},{"r":923,"m":24.4},{"r":927,"m":25.4},{"r":930,"m":26.1},{"r":933,"m":27.2},{"r":937,"m":23.7},
      {"r":941,"m":24.2},{"r":945,"m":24.9},{"r":948,"m":26.6},{"r":951,"m":23.3},{"r":955,"m":25.7},{"r":958,"m":27.7},
      {"r":960,"m":22.9},{"r":963,"m":24.3},{"r":967,"m":25.3},{"r":970,"m":26.0},{"r":973,"m":27.1},{"r":977,"m":23.6},
      {"r":981,"m":24.1},{"r":985,"m":24.8},{"r":988,"m":26.5},{"r":991,"m":23.2},{"r":995,"m":25.6},{"r":998,"m":27.6},
      {"r":1000,"m":22.8},{"r":1003,"m":24.2},{"r":1007,"m":25.2},{"r":1010,"m":25.9},{"r":1013,"m":27.0},{"r":1017,"m":23.5},
      {"r":1021,"m":24.0},{"r":1025,"m":24.7},{"r":1028,"m":26.4},{"r":1031,"m":23.1},{"r":1035,"m":25.5},{"r":1038,"m":27.5},
      {"r":1040,"m":22.7},{"r":1043,"m":24.1},{"r":1047,"m":25.1},{"r":1050,"m":25.8},{"r":1053,"m":26.9},{"r":1057,"m":23.4},
      {"r":1061,"m":23.3},{"r":1065,"m":24.0},{"r":1068,"m":25.7},{"r":1071,"m":22.4},{"r":1075,"m":24.8},{"r":1078,"m":26.8},
      {"r":1080,"m":21.8},{"r":1083,"m":23.2},{"r":1087,"m":24.2},{"r":1090,"m":24.9},{"r":1093,"m":26.0},{"r":1097,"m":22.5},
      {"r":1101,"m":22.7},{"r":1105,"m":23.4},{"r":1108,"m":25.1},{"r":1111,"m":21.8},{"r":1115,"m":24.2},{"r":1118,"m":26.2},
      {"r":1120,"m":21.2},{"r":1123,"m":22.6},{"r":1127,"m":23.6},{"r":1130,"m":24.3},{"r":1133,"m":25.4},{"r":1137,"m":21.9},
      {"r":1141,"m":22.0},{"r":1145,"m":22.7},{"r":1148,"m":24.4},{"r":1151,"m":21.1},{"r":1155,"m":23.5},{"r":1158,"m":25.5},
      {"r":1160,"m":20.1},{"r":1163,"m":21.5},{"r":1167,"m":22.5},{"r":1170,"m":23.2},{"r":1173,"m":24.3},{"r":1177,"m":20.8}
    ]
  },
  "layer": [
    {
      "encoding": {
        "x": {
          "field": "r",
          "type": "quantitative",
          "title": null,
          "scale": {"domain": [0, 1184], "nice": false, "zero": false},
          "axis": {
            "domain": true,
            "domainColor": "#cacaca",
            "domainWidth": 2,
            "ticks": false,
            "grid": false,
            "values": [0, 1, 2, 1182, 1184],
            "labelExpr": "datum.value == 0 ? '///' : datum.value == 1 ? 'ACTION' : datum.value == 2 ? '1) Calculated for all stores opened before 1 January 2024' : datum.value == 1182 ? '3i Capital Markets Seminar 2026 | Action' : '48'",
            "labelOverlap": false,
            "labelFlush": false,
            "labelBound": false,
            "labelLimit": 600,
            "labelPadding": 139,
            "labelBaseline": "middle",
            "labelFont": "Open Sans",
            "labelAlign": {"condition": {"test": "datum.value > 1000", "value": "right"}, "value": "left"},
            "labelOffset": {
              "condition": [
                {"test": "datum.value == 0", "value": -131},
                {"test": "datum.value == 1", "value": -114},
                {"test": "datum.value == 2", "value": -23},
                {"test": "datum.value == 1182", "value": 46}
              ],
              "value": 82
            },
            "labelFontSize": {
              "condition": [
                {"test": "datum.value == 0", "value": 18},
                {"test": "datum.value == 1", "value": 22},
                {"test": "datum.value == 2", "value": 14},
                {"test": "datum.value == 1182", "value": 12}
              ],
              "value": 11
            },
            "labelFontWeight": {"condition": {"test": "datum.value == 1 || datum.value == 1184", "value": "bold"}, "value": "normal"},
            "labelFontStyle": {"condition": {"test": "datum.value == 1", "value": "italic"}, "value": "normal"},
            "labelColor": {
              "condition": [
                {"test": "datum.value == 0", "value": "#3a9ee0"},
                {"test": "datum.value == 2", "value": "#8a8a8a"}
              ],
              "value": "#141a7a"
            }
          }
        },
        "y": {
          "field": "c",
          "type": "quantitative",
          "title": "Store contribution 2025",
          "scale": {"domain": [0, 1516], "nice": false, "zero": false},
          "axis": {
            "domain": true,
            "domainColor": "#cacaca",
            "domainWidth": 2,
            "ticks": false,
            "labels": false,
            "grid": false,
            "titleFont": "Open Sans",
            "titleFontSize": 21.4,
            "titleFontWeight": "normal",
            "titleColor": "#1a1a1a",
            "titlePadding": 19
          }
        }
      },
      "layer": [
        {
          "data": {"name": "contribution"},
          "mark": {"type": "area", "interpolate": "linear"},
          "encoding": {
            "color": {
              "datum": 1,
              "type": "quantitative",
              "scale": {"domain": [0, 2], "range": ["#1db6e5", "#1db6e5"]},
              "legend": {
                "orient": "none",
                "legendX": -71,
                "legendY": -126,
                "direction": "horizontal",
                "gradientLength": 349,
                "gradientThickness": 7,
                "gradientStrokeWidth": 0,
                "labelExpr": "''",
                "title": null,
                "padding": 0
              }
            }
          }
        },
        {
          "data": {"values": [{"r": 9, "c": 84, "label": "Stores ordered high to low by store contribution"}]},
          "mark": {
            "type": "text",
            "align": "left",
            "baseline": "middle",
            "font": "Open Sans",
            "fontSize": 21.5,
            "fontWeight": "bold",
            "fontStyle": "italic",
            "color": "#ffffff"
          },
          "encoding": {
            "text": {"field": "label", "type": "nominal"}
          }
        }
      ]
    },
    {
      "encoding": {
        "x": {"field": "r", "type": "quantitative", "title": null, "scale": {"domain": [0, 1184], "nice": false, "zero": false}},
        "y": {
          "field": "m",
          "type": "quantitative",
          "title": "Store contribution margin %",
          "scale": {"domain": [-5, 32.9], "nice": false, "zero": false},
          "axis": {
            "orient": "right",
            "domain": false,
            "ticks": false,
            "labels": false,
            "grid": false,
            "titleAngle": 270,
            "titleBaseline": "top",
            "titleFont": "Open Sans",
            "titleFontSize": 21.4,
            "titleFontWeight": "normal",
            "titleColor": "#1a1a1a",
            "titlePadding": 19
          }
        }
      },
      "layer": [
        {
          "data": {"name": "stores"},
          "mark": {"type": "point", "filled": true, "size": 211, "opacity": 1, "strokeWidth": 0},
          "encoding": {
            "fill": {
              "datum": "Store contribution margin % by store",
              "type": "nominal",
              "scale": {
                "domain": ["Store contribution (in €k) by store", "Store contribution margin % by store", "Linear (store contribution margin)"],
                "range": ["#1db6e5", "#fe8424", "#21b14b"]
              },
              "legend": {
                "orient": "none",
                "legendX": -18.8,
                "legendY": 408.5,
                "direction": "horizontal",
                "columns": 3,
                "title": null,
                "padding": 0,
                "columnPadding": 21.5,
                "symbolSize": 529,
                "symbolStrokeWidth": 0,
                "symbolOpacity": 1,
                "labelFont": "Open Sans",
                "labelFontSize": 21.5,
                "labelColor": "#1a1a1a",
                "labelOffset": 6.8,
                "labelLimit": 600,
                "encode": {
                  "symbols": {"update": {"size": {"value": 529}, "opacity": {"value": 1}}},
                  "labels": {"update": {"dx": {"signal": "datum.value == 'Linear (store contribution margin)' ? 27 : 0"}}}
                }
              }
            },
            "shape": {
              "datum": "Store contribution margin % by store",
              "type": "nominal",
              "scale": {
                "domain": ["Store contribution (in €k) by store", "Store contribution margin % by store", "Linear (store contribution margin)"],
                "range": [
                  "M0.29,-1H0.55V1H0.29Z",
                  "M0.5,0A0.5,0.5,0,1,1,-0.5,0A0.5,0.5,0,1,1,0.5,0Z",
                  "M0.97,-0.17H2.8V0.17H0.97Z"
                ]
              },
              "legend": {
                "orient": "none",
                "legendX": -18.8,
                "legendY": 408.5,
                "direction": "horizontal",
                "columns": 3,
                "title": null,
                "padding": 0,
                "columnPadding": 21.5,
                "symbolSize": 529,
                "symbolStrokeWidth": 0,
                "symbolOpacity": 1,
                "labelFont": "Open Sans",
                "labelFontSize": 21.5,
                "labelColor": "#1a1a1a",
                "labelOffset": 6.8,
                "labelLimit": 600,
                "encode": {
                  "symbols": {"update": {"size": {"value": 529}, "opacity": {"value": 1}}},
                  "labels": {"update": {"dx": {"signal": "datum.value == 'Linear (store contribution margin)' ? 27 : 0"}}}
                }
              }
            }
          }
        },
        {
          "data": {"name": "trend"},
          "mark": {"type": "line", "color": "#21b14b", "strokeWidth": 3}
        },
        {
          "data": {"values": [{"r": 1141, "m": 31.7, "label": "Average store contribution margin: 24.7%"}]},
          "mark": {
            "type": "text",
            "align": "right",
            "baseline": "middle",
            "font": "Open Sans",
            "fontSize": 21.5,
            "fontWeight": "bold",
            "fontStyle": "italic",
            "color": "#4f7194"
          },
          "encoding": {
            "text": {"field": "label", "type": "nominal"}
          }
        }
      ]
    }
  ],
  "resolve": {"scale": {"y": "independent"}}
}
